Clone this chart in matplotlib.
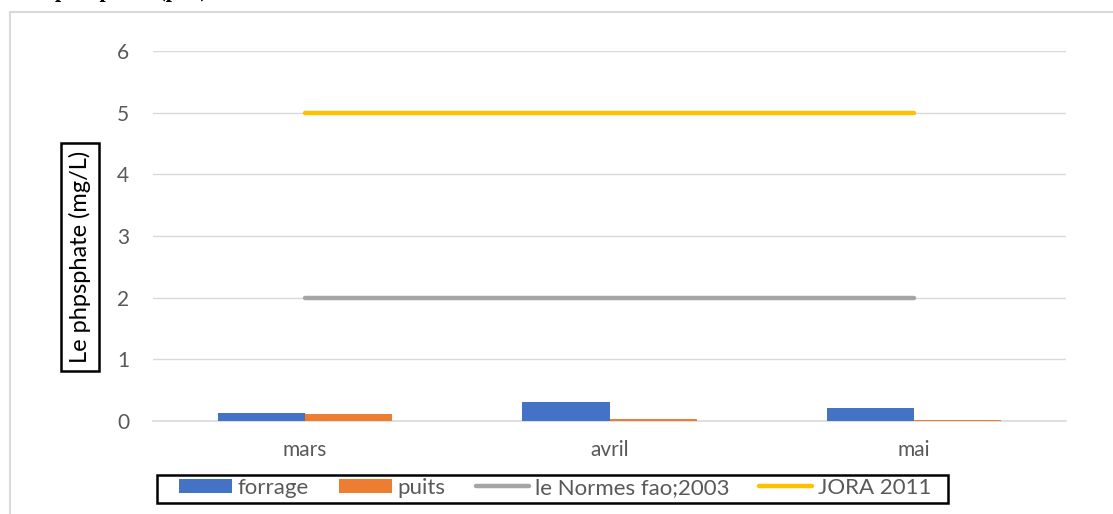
import numpy as np
import matplotlib
matplotlib.use("Agg")
import matplotlib.pyplot as plt
from matplotlib.patches import Rectangle

# Data
months = ['mars', 'avril', 'mai']
forrage = [0.13, 0.31, 0.21]
puits = [0.12, 0.04, 0.02]
norme_fao = [2, 2, 2]
jora = [5, 5, 5]
y_ticks = [0, 1, 2, 3, 4, 5, 6]

plt.rcParams['font.family'] = ['Lato', 'DejaVu Sans']

W, H = 1113, 514
fig = plt.figure(figsize=(W / 100, H / 100), dpi=100)

# outer chart frame (cut off at right and bottom)
fig.patches.append(Rectangle((10 / W, -0.1), 1.2, 1 - 12 / H + 0.1,
                             transform=fig.transFigure, fill=False,
                             edgecolor='#D9D9D9', lw=1.5))

# clipped title at the very top
fig.text(55 / W, 1 + 3 / H, 'phosphate (po4)', family='Liberation Serif',
         weight='bold', fontsize=16, va='baseline', ha='left')

ax = fig.add_axes([153 / W, (H - 421) / H, 913 / W, 370 / H])

x = np.arange(len(months))
bw = 0.286
h1 = ax.bar(x - bw / 2, forrage, bw, color='#4472C4', label='forrage', zorder=3)
h2 = ax.bar(x + bw / 2, puits, bw, color='#ED7D31', label='puits', zorder=3)
h3, = ax.plot(x, norme_fao, color='#A5A5A5', lw=3.2, solid_capstyle='round',
              label='le Normes fao;2003', zorder=4)
h4, = ax.plot(x, jora, color='#FFC000', lw=3.2, solid_capstyle='round',
              label='JORA 2011', zorder=4)

ax.set_xlim(-0.5, len(months) - 0.5)
ax.set_ylim(0, 6)
ax.set_yticks(y_ticks)
ax.set_xticks(x)
ax.set_xticklabels(months)
ax.tick_params(length=0, colors='#595959', labelsize=15)
ax.tick_params(axis='y', pad=17)
ax.tick_params(axis='x', pad=14)
ax.grid(axis='y', color='#D9D9D9', lw=1, zorder=0)
for s in ['top', 'right', 'left']:
    ax.spines[s].set_visible(False)
ax.spines['bottom'].set_color('#D9D9D9')
ax.spines['bottom'].set_linewidth(1.2)

fig.text(80 / W, (H - 257) / H, 'Le phpsphate (mg/L)', rotation=90,
         ha='center', va='center', fontsize=17, color='black',
         bbox=dict(boxstyle='square,pad=0.35', fc='white', ec='black', lw=1.8))

leg = ax.legend([h1, h2, h3, h4], ['forrage', 'puits', 'le Normes fao;2003', 'JORA 2011'],
                ncol=4, loc='center', bbox_to_anchor=(555 / W, 26 / H),
                bbox_transform=fig.transFigure, fontsize=16, frameon=False,
                handlelength=2.4, handleheight=0.63,
                handletextpad=0.25, columnspacing=1.35, borderpad=0.15,
                borderaxespad=0)
for t in leg.get_texts():
    t.set_color('#595959')

# legend box drawn separately: wider side padding than top/bottom
fig.patches.append(Rectangle((157 / W, (H - 503) / H), (948 - 157) / W, 28 / H,
                             transform=fig.transFigure, fill=False,
                             edgecolor='black', lw=1.8, zorder=5))

fig.savefig('out.png', dpi=100)
